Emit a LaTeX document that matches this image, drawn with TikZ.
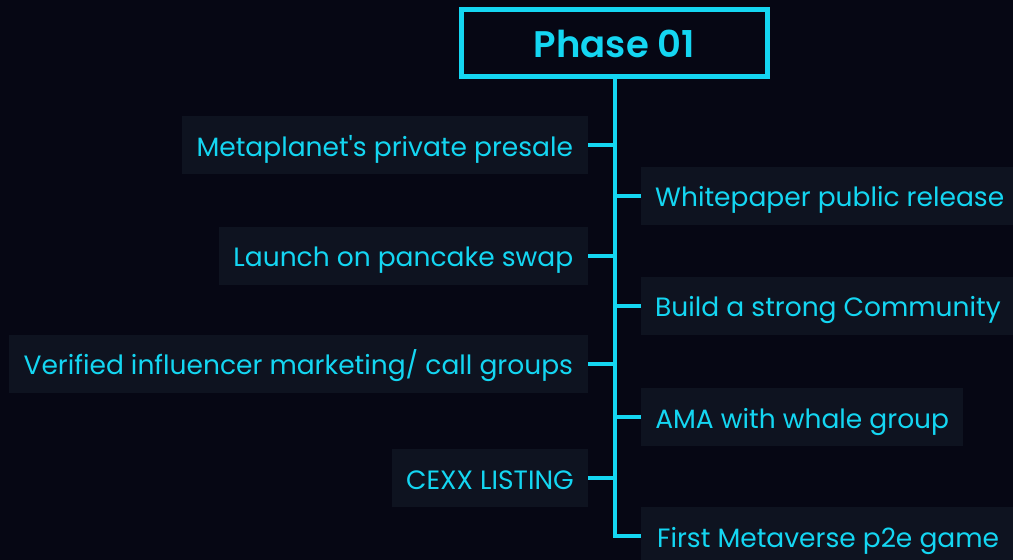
\documentclass[tikz,border=0pt]{standalone}
\usepackage{fontspec}
\setmainfont{Poppins}
\newfontfamily\titlefont{Poppins}[UprightFont=* SemiBold]
\usetikzlibrary{positioning}
\definecolor{bgdark}{RGB}{6,7,20}
\definecolor{boxfill}{RGB}{14,19,32}
\definecolor{neon}{RGB}{20,214,242}

\begin{document}
\begin{tikzpicture}[x=1pt, y=-1pt,
  item/.style={fill=boxfill, text=neon, font=\fontsize{26.5}{30}\selectfont,
    minimum height=58pt, inner xsep=14pt, inner ysep=0pt,
    text height=22pt, text depth=0pt},
  link/.style={draw=neon, line width=4pt}]
\fill[bgdark] (0,0) rectangle (1013,560);
\useasboundingbox (0,0) rectangle (1013,560);
\clip (0,0) rectangle (1013,560);

\node[draw=neon, line width=5pt, minimum width=306pt, minimum height=67pt,
  text height=28pt, text depth=0pt, inner ysep=0pt,
  text=neon, font=\titlefont\fontsize{37}{44}\selectfont] (title) at (614.5,43) {Phase 01};

% left side
\node[item, anchor=east, minimum width=406pt] (l1) at (588,145) {Metaplanet\textquotesingle s private presale};
\node[item, anchor=east, minimum width=369pt] (l2) at (588,255.5) {Launch on pancake swap};
\node[item, anchor=east, minimum width=579pt] (l3) at (588,363.5) {Verified influencer marketing/ call groups};
\node[item, anchor=east, minimum width=195pt] (l4) at (588,478) {CEXX LISTING};

% right side
\node[item, anchor=west] (r1) at (641,195.5) {Whitepaper public release};
\node[item, anchor=west] (r2) at (641,305.5) {Build a strong Community};
\node[item, anchor=west, minimum width=322pt] (r3) at (641,417) {AMA with whale group};
\node[item, anchor=west, inner xsep=16pt] (r4) at (641,536) {First Metaverse p2e game};

\draw[link] (title.south) |- (r4.west);
\foreach \n in {l1,l2,l3,l4}
  \draw[link] (\n.east) -- (\n.east -| title.south);
\foreach \n in {r1,r2,r3}
  \draw[link] (\n.west) -- (\n.west -| title.south);
\end{tikzpicture}
\end{document}
